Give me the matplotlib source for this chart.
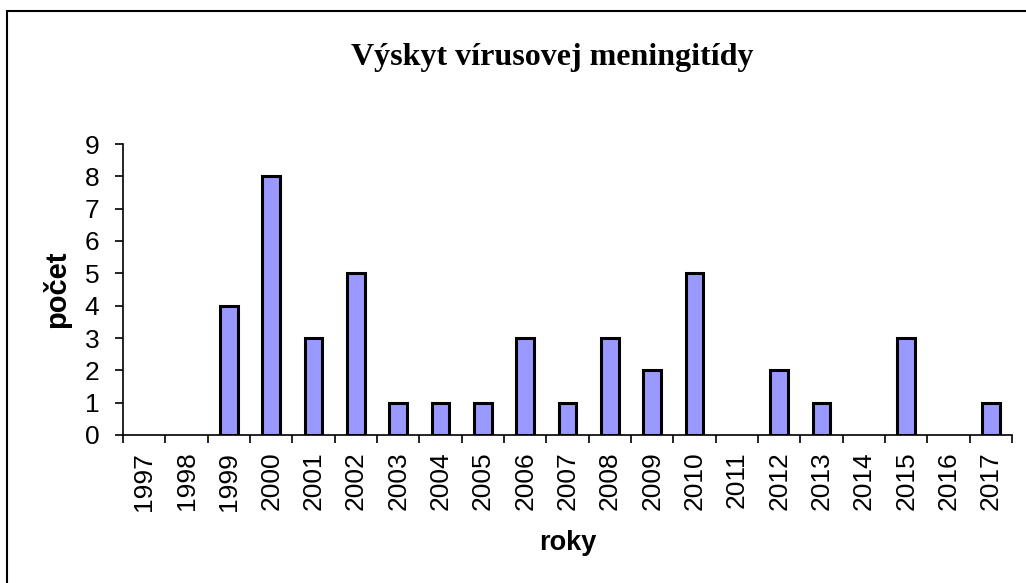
import numpy as np
import matplotlib
matplotlib.use("Agg")
import matplotlib.pyplot as plt
from matplotlib.patches import Rectangle

# Data
years = ["1997", "1998", "1999", "2000", "2001", "2002", "2003", "2004", "2005",
         "2006", "2007", "2008", "2009", "2010", "2011", "2012", "2013", "2014",
         "2015", "2016", "2017"]
counts = [0, 0, 4, 8, 3, 5, 1, 1, 1, 3, 1, 3, 2, 5, 0, 2, 1, 0, 3, 0, 1]

title = "Výskyt vírusovej meningitídy"
ylabel = "počet"
xlabel = "roky"

W, H = 1026, 583
fig = plt.figure(figsize=(W / 100, H / 100), dpi=100)

# outer frame of the chart area (runs off the right/bottom edge)
fig.patches.append(Rectangle((7 / W, -0.1), 1.2, 1 - 11 / H + 0.1,
                             transform=fig.transFigure, fill=False,
                             edgecolor="black", linewidth=1.5))

ax = fig.add_axes([123 / W, 1 - 435 / H, (1012 - 123) / W, (435 - 144) / H])

x = np.arange(len(years))
bars = ax.bar(x, counts, width=0.42, color="#9999FF", edgecolor="black",
              linewidth=2.2)
# zero-height bars leave no mark in the original
for b, c in zip(bars, counts):
    if c == 0:
        b.set_visible(False)

ax.set_xlim(-0.5, len(years) - 0.5)
ax.set_ylim(0, 9)
ax.set_yticks(range(0, 10))

ax.set_xticks(x)
ax.set_xticklabels(years, rotation=90, fontsize=19, family="Liberation Sans")
ax.set_xticks(np.arange(-0.5, len(years)), minor=True)
ax.tick_params(axis="x", which="major", length=0, pad=12)
ax.tick_params(axis="x", which="minor", length=6, width=1.2, direction="out")
ax.tick_params(axis="y", length=6, width=1.2, direction="out", pad=11,
               labelsize=19)
for lbl in ax.get_yticklabels():
    lbl.set_family("Liberation Sans")

for side in ["top", "right"]:
    ax.spines[side].set_visible(False)
for side in ["left", "bottom"]:
    ax.spines[side].set_linewidth(1.2)

ax.set_ylabel(ylabel, fontsize=21, fontweight="bold", family="Liberation Sans",
              labelpad=10)
ax.set_xlabel(xlabel, fontsize=19.5, fontweight="bold", family="Liberation Sans",
              labelpad=14)

fig.text(0.538, 1 - 58 / H, title, ha="center", va="center", fontsize=23,
         fontweight="bold", family="Liberation Serif")

fig.savefig("out.png", dpi=100)
